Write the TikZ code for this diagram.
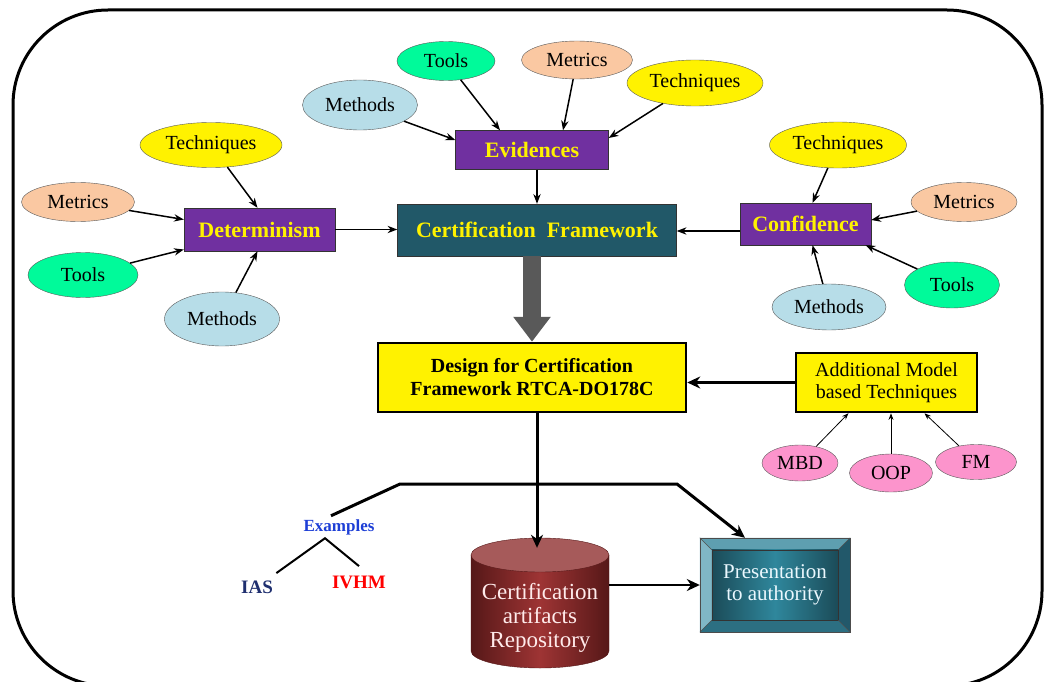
\documentclass[tikz,border=0pt]{standalone}
\usepackage{fontspec}
\setmainfont{Liberation Serif}
\usetikzlibrary{arrows.meta,positioning,calc,shapes.geometric,backgrounds}
\definecolor{purp}{HTML}{7030A0}
\definecolor{cfteal}{HTML}{215868}
\definecolor{toolg}{HTML}{00FA9A}
\definecolor{metr}{HTML}{FAC8A2}
\definecolor{methb}{HTML}{B7DDE8}
\definecolor{pinkf}{HTML}{FC94CC}
\definecolor{navy}{HTML}{1F2F6F}
\definecolor{exblue}{HTML}{1E3FD6}
\definecolor{cyldark}{HTML}{561818}
\definecolor{cylmid}{HTML}{9E3434}
\definecolor{cyltop}{HTML}{A65A5A}
\definecolor{bevtop}{HTML}{5E9FB0}
\definecolor{bevleft}{HTML}{80B7C6}
\definecolor{bevright}{HTML}{22586A}
\definecolor{bevbot}{HTML}{2C6F82}
\definecolor{presdark}{HTML}{1B4B58}
\definecolor{presmid}{HTML}{2F879C}

\begin{document}
\begin{tikzpicture}[x=1pt,y=-1pt,>=Stealth,
  ell/.style={ellipse,draw=black!65,inner sep=0pt,font=\fontsize{20}{22}\selectfont},
  tls/.style={ell,fill=toolg},
  mtr/.style={ell,fill=metr},
  tcq/.style={ell,fill=yellow},
  mth/.style={ell,fill=methb},
  pk/.style={ell,fill=pinkf},
  pb/.style={draw=black!80,fill=purp,text=yellow,font=\fontsize{22}{24}\selectfont\bfseries},
  yb/.style={draw,line width=2.5pt,fill=yellow,align=center},
  lk/.style={->,line width=1.5pt},
  tn/.style={->,line width=0.8pt},
  bk/.style={-{Stealth[length=13pt,width=12pt]},line width=3pt}]
\useasboundingbox (0,0) rectangle (1044,682);
\draw[line width=3pt,rounded corners=95pt] (13,10) rectangle (1042,686);

% evidences on top
\node[pb,minimum width=153,minimum height=39] (evd) at (532,150) {Evidences};
\node[tls,minimum width=98,minimum height=39] (tl1) at (446,61) {Tools};
\node[mtr,minimum width=111,minimum height=38] (mt1) at (577,60) {Metrics};
\node[tcq,minimum width=136,minimum height=46] (tq1) at (695,83) {Techniques};
\node[mth,minimum width=115,minimum height=50] (mth1) at (360,105) {Methods};
\draw[lk] (mth1) -- ([yshift=10pt]evd.west);
\draw[lk] (tl1) -- ([xshift=-32pt]evd.north);
\draw[lk] (mt1) -- ([xshift=31pt]evd.north);
\draw[lk] (tq1) -- ([yshift=12pt]evd.east);

\node[draw=black!80,fill=cfteal,text=yellow,font=\fontsize{22}{24}\selectfont\bfseries,
  minimum width=279,minimum height=52] (cf) at (537,230) {Certification\ \ Framework};
\draw[lk] ([xshift=5pt]evd.south) -- ([xshift=5pt]evd.south |- cf.north);

% determinism on the left
\node[pb,minimum width=151,minimum height=43] (det) at (259.5,229.5) {Determinism};
\node[tcq,minimum width=142,minimum height=45] (tq2) at (211,145) {Techniques};
\node[mtr,minimum width=113,minimum height=39] (mt2) at (78,202) {Metrics};
\node[tls,minimum width=110,minimum height=45] (tl2) at (83,275) {Tools};
\node[mth,minimum width=115,minimum height=54] (mth2) at (222,319) {Methods};
\draw[lk] (tq2) -- ([xshift=-2pt]det.north);
\draw[lk] (mt2) -- ([yshift=10pt]det.west);
\draw[lk] (tl2) -- ([yshift=-20pt]det.west);
\draw[lk] (mth2) -- ([xshift=-2pt]det.south);
\draw[lk] (det.east) -- (det.east -| cf.west);

% confidence on the right
\node[pb,minimum width=131,minimum height=42] (con) at (805.5,224) {Confidence};
\node[tcq,minimum width=137,minimum height=46] (tq3) at (838,145) {Techniques};
\node[mtr,minimum width=106,minimum height=39] (mt3) at (964,202) {Metrics};
\node[tls,minimum width=95,minimum height=46] (tl3) at (952,285) {Tools};
\node[mth,minimum width=114,minimum height=46] (mth3) at (829,307) {Methods};
\draw[lk] (tq3) -- ([xshift=7pt]con.north);
\draw[lk] (mt3) -- ([yshift=4pt]con.east);
\draw[lk] (tl3) -- ([xshift=60pt]con.south);
\draw[lk] (mth3) -- ([xshift=7pt]con.south);
\draw[lk] ([yshift=-7pt]con.west) -- ([yshift=-7pt]con.west -| cf.east);

% design for certification
\node[yb,font=\fontsize{20}{23}\selectfont\bfseries,minimum width=308,minimum height=69] (des) at (532,377.5)
  {Design for Certification\\Framework RTCA-DO178C};
\draw[line width=18pt,draw=black!65,-{Triangle[length=25pt,width=36pt]}] (des.north |- cf.south) -- (des.north);

\node[yb,font=\fontsize{20}{22}\selectfont,minimum width=181,minimum height=59] (add) at (886.5,382.5)
  {Additional Model\\based Techniques};
\draw[bk] (add.west) -- (add.west -| des.east);
\node[pk,minimum width=76,minimum height=36] (mbd) at (800,463) {MBD};
\node[pk,minimum width=83,minimum height=38] (oop) at (891,473) {OOP};
\node[pk,minimum width=81,minimum height=35] (fm) at (976,462) {FM};
\draw[tn] (mbd) -- ([xshift=-38pt]add.south);
\draw[tn] (oop) -- (oop |- add.south);
\draw[tn] (fm) -- ([xshift=38pt]add.south);

% outputs
\node[font=\fontsize{17}{19}\selectfont\bfseries,text=exblue] (ex) at (339,527) {Examples};
\node[font=\fontsize{19}{21}\selectfont\bfseries,text=navy] (ias) at (257,587) {IAS};
\node[font=\fontsize{19}{21}\selectfont\bfseries,text=red] (ivhm) at (359,582) {IVHM};
\draw[line width=2pt] ([yshift=4pt]ias.north east) -- ([xshift=-14pt]ex.south) -- ([yshift=6pt]ivhm.north);

\node[align=center,text=white!92!red,font=\fontsize{23}{24}\selectfont,minimum width=138,minimum height=140] (repo) at (540,618)
  {Certification\\artifacts\\Repository};
\node[align=center,text=white!92!cyan,font=\fontsize{21}{22}\selectfont,minimum width=150,minimum height=94] (pres) at (775,585)
  {Presentation\\to authority};
\coordinate (brL) at (400,484);
\coordinate (brR) at (677,484);
\draw[bk] ([xshift=5pt]des.south) -- ([xshift=5pt]des.south |- repo.north);
\draw[bk] ([xshift=-8pt]ex.north) -- (brL) -- (brR) -- ([xshift=-30pt]pres.north);
\draw[bk,line width=2.5pt] (repo.east |- pres.west) -- (pres.west);

\begin{scope}[on background layer]
\shade[left color=cyldark,right color=cyldark,middle color=cylmid,draw=cyldark]
  (471,555) -- (471,651) arc[start angle=180,end angle=0,x radius=69,y radius=17] -- (609,555) -- cycle;
\filldraw[fill=cyltop,draw=cyldark] (540,555) ellipse[x radius=69,y radius=17];
\fill[bevtop] (pres.north west) -- (pres.north east) -- ($(pres.north east)+(-12,12)$) -- ($(pres.north west)+(12,12)$) -- cycle;
\fill[bevleft] (pres.north west) -- ($(pres.north west)+(12,12)$) -- ($(pres.south west)+(12,-12)$) -- (pres.south west) -- cycle;
\fill[bevright] (pres.north east) -- (pres.south east) -- ($(pres.south east)+(-12,-12)$) -- ($(pres.north east)+(-12,12)$) -- cycle;
\fill[bevbot] (pres.south west) -- (pres.south east) -- ($(pres.south east)+(-12,-12)$) -- ($(pres.south west)+(12,-12)$) -- cycle;
\shade[left color=presdark,right color=presdark,middle color=presmid]
  ($(pres.north west)+(12,12)$) rectangle ($(pres.south east)+(-12,-12)$);
\draw[black!70] (pres.north west) rectangle (pres.south east);
\draw[black!80] ($(pres.north west)+(12,12)$) rectangle ($(pres.south east)+(-12,-12)$);
\draw[black!70] (pres.north west) -- ++(12,12) (pres.north east) -- ++(-12,12)
  (pres.south west) -- ++(12,-12) (pres.south east) -- ++(-12,-12);
\end{scope}
\end{tikzpicture}
\end{document}
